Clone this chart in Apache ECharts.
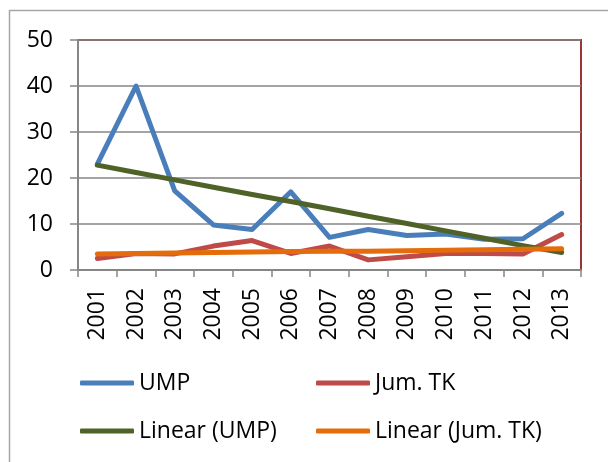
<!DOCTYPE html>
<html>
<head>
<meta charset="utf-8">
<script src="https://cdn.jsdelivr.net/npm/echarts@6/dist/echarts.min.js"></script>
<style>
html,body{margin:0;padding:0;background:#fff;}
#c{width:608px;height:462px;}
</style>
</head>
<body>
<div id="c"></div>
<script>
var years = ['2001','2002','2003','2004','2005','2006','2007','2008','2009','2010','2011','2012','2013'];
var ump = [23.0, 40.0, 17.2, 9.8, 8.8, 17.0, 7.1, 8.8, 7.5, 7.8, 6.7, 6.8, 12.3];
var jumTK = [2.5, 3.6, 3.5, 5.2, 6.4, 3.6, 5.2, 2.2, 2.9, 3.6, 3.6, 3.5, 7.7];
var linearUMP = [22.8, 21.2, 19.6, 18.0, 16.4, 14.9, 13.3, 11.7, 10.1, 8.5, 6.9, 5.3, 3.8];
var linearTK = [3.5, 3.6, 3.7, 3.8, 3.9, 4.0, 4.1, 4.1, 4.2, 4.3, 4.4, 4.5, 4.6];
var yTicks = [0, 10, 20, 30, 40, 50];

var FONT = '"Open Sans", sans-serif';
var chart = echarts.init(document.getElementById('c'), null, {renderer: 'canvas'});

function lineSeries(name, data, color) {
  return {
    name: name, type: 'line', data: data, symbol: 'none', showSymbol: false,
    lineStyle: {color: color, width: 5, cap: 'round', join: 'round'},
    itemStyle: {color: color},
    emphasis: {disabled: true}, animation: false
  };
}

var legendBase = {
  orient: 'vertical', itemWidth: 54, itemHeight: 5, itemGap: 24,
  itemTextGap: 6, icon: 'roundRect', padding: 0,
  textStyle: {fontFamily: FONT, fontSize: 23, color: '#000', lineHeight: 24}
};

chart.setOption({
  animation: false,
  backgroundColor: '#fff',
  graphic: [{
    type: 'rect', shape: {x: 9.5, y: 10.5, width: 700, height: 600},
    style: {fill: null, stroke: '#a6a6a6', lineWidth: 1.5}, silent: true, z: -1
  }],
  grid: {left: 78, right: 27, top: 40, bottom: 192, show: true,
         borderColor: '#9b3633', borderWidth: 2, backgroundColor: 'transparent'},
  legend: [
    Object.assign({}, legendBase, {data: ['UMP', 'Linear (UMP)'], left: 80, top: 371}),
    Object.assign({}, legendBase, {data: ['Jum. TK', 'Linear (Jum. TK)'], left: 316, top: 371})
  ],
  xAxis: {
    type: 'category', data: years, boundaryGap: true,
    axisLine: {lineStyle: {color: '#868686', width: 2}},
    axisTick: {show: true, length: 7, alignWithLabel: false, lineStyle: {color: '#868686', width: 1.5}},
    axisLabel: {rotate: 90, margin: 18, fontFamily: FONT, fontSize: 23, color: '#000', interval: 0},
    splitLine: {show: false}
  },
  yAxis: {
    type: 'value', min: yTicks[0], max: yTicks[yTicks.length - 1], interval: 10,
    axisLine: {show: true, lineStyle: {color: '#868686', width: 2}},
    axisTick: {show: true, length: 8, lineStyle: {color: '#868686', width: 1.5}},
    axisLabel: {margin: 25, fontFamily: FONT, fontSize: 23, color: '#000'},
    splitLine: {show: true, lineStyle: {color: '#868686', width: 1.5}}
  },
  series: [
    lineSeries('UMP', ump, '#4a7ebb'),
    lineSeries('Jum. TK', jumTK, '#be4b48'),
    lineSeries('Linear (UMP)', linearUMP, '#4f6228'),
    lineSeries('Linear (Jum. TK)', linearTK, '#e46c0a')
  ]
});
</script>
</body>
</html>
